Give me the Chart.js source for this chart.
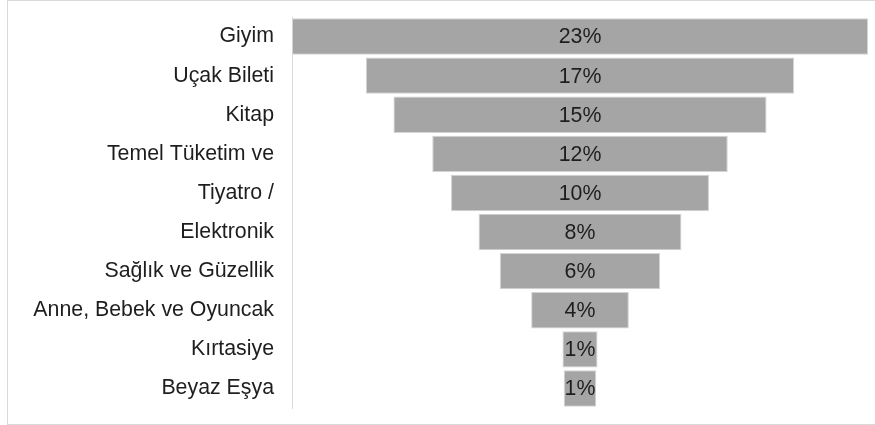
<!DOCTYPE html>
<html>
<head>
<meta charset="utf-8">
<script src="https://cdn.jsdelivr.net/npm/chart.js@4/dist/chart.umd.min.js"></script>
<style>
  html, body { margin: 0; padding: 0; background: #fff; overflow: hidden; }
  #frame { position: absolute; left: 7px; top: 0px; width: 880px; height: 425px; border: 1px solid #d9d9d9; box-sizing: border-box; }
  #wrap { position: absolute; left: 0; top: 0; width: 875px; height: 425px; }
</style>
</head>
<body>
<div id="frame"></div>
<div id="wrap"><canvas id="c" width="875" height="425"></canvas></div>
<script>
const categories = ["Giyim", "Uçak Bileti", "Kitap", "Temel Tüketim ve", "Tiyatro /", "Elektronik", "Sağlık ve Güzellik", "Anne, Bebek ve Oyuncak", "Kırtasiye", "Beyaz Eşya"];
const shares = [23, 17.1, 14.9, 11.8, 10.3, 8.1, 6.4, 3.9, 1.4, 1.3];

const maxShare = Math.max(...shares);
const center = maxShare / 2;
const funnelData = shares.map(v => [center - v / 2, center + v / 2]);

const FONT = { family: "'Liberation Sans', Arial, sans-serif", size: 21.33 };

const labelPlugin = {
  id: 'funnelLabels',
  afterDatasetsDraw(chart) {
    const ctx = chart.ctx;
    const meta = chart.getDatasetMeta(0);
    ctx.save();
    ctx.font = FONT.size + "px " + FONT.family;
    ctx.fillStyle = '#1e1e1e';
    ctx.textAlign = 'center';
    ctx.textBaseline = 'middle';
    meta.data.forEach((el, i) => {
      const x = (el.x + el.base) / 2;
      ctx.fillText(Math.round(shares[i]) + '%', x, el.y + 1);
    });
    ctx.restore();
  }
};

new Chart(document.getElementById('c'), {
  type: 'bar',
  data: {
    labels: categories,
    datasets: [{
      data: funnelData,
      backgroundColor: '#a5a5a5',
      borderColor: '#d4d4d4',
      borderWidth: 1,
      borderSkipped: false,
      barPercentage: 0.93,
      categoryPercentage: 1
    }]
  },
  options: {
    indexAxis: 'y',
    responsive: false,
    animation: false,
    events: [],
    layout: { padding: { top: 17, bottom: 17, right: 7, left: 0 } },
    plugins: { legend: { display: false }, tooltip: { enabled: false } },
    scales: {
      x: { display: false, min: 0, max: maxShare },
      y: {
        grid: { display: false, drawTicks: false },
        border: { display: true, color: '#d9d9d9', width: 1 },
        ticks: { color: '#1e1e1e', font: FONT, padding: 18 },
        afterFit(scale) { scale.width = 292; scale.paddingTop = 0; scale.paddingBottom = 0; }
      }
    }
  },
  plugins: [labelPlugin]
});
</script>
</body>
</html>
